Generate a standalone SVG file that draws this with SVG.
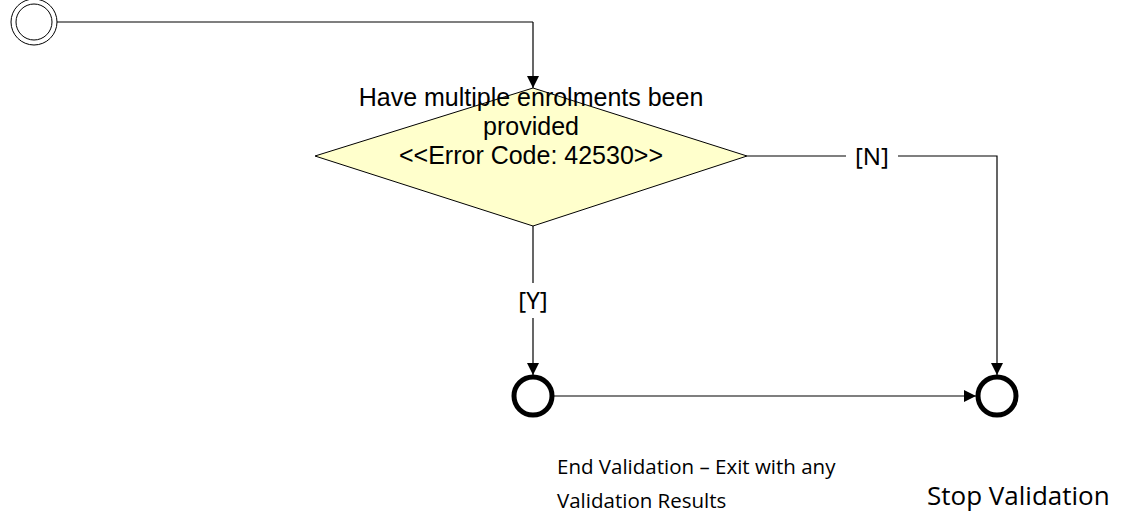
<svg xmlns="http://www.w3.org/2000/svg" width="1125" height="518" viewBox="0 0 1125 518">
<style>
.line{fill:none;stroke:#000;stroke-width:1.2}
.gline{fill:none;stroke:#555;stroke-width:1.5}
.diamond{fill:#FFFFCC;stroke:#000;stroke-width:1}
.dtext{font-family:"Liberation Sans",Arial,sans-serif;font-size:25px;fill:#000;text-anchor:middle}
.lbl{font-family:"Noto Sans","Open Sans",sans-serif;font-size:24px;fill:#000;text-anchor:middle}
.cap{font-family:"Open Sans","Noto Sans",sans-serif;font-size:20.5px;fill:#000}
.cap2{font-family:"Open Sans","Noto Sans",sans-serif;font-size:26px;fill:#000}
.endc{fill:#fff;stroke:#000;stroke-width:5}
</style>
<defs>
<marker id="arr" viewBox="0 0 12 12" refX="12" refY="6" markerWidth="12" markerHeight="12" markerUnits="userSpaceOnUse" orient="auto">
<path d="M0,0 L12,6 L0,12 z" fill="#000"/>
</marker>
</defs>
<g id="connectors">
<path class="gline" d="M56,22 H533" />
<path class="line" d="M533,22 V88" marker-end="url(#arr)"/>
<path class="line" d="M747,156 H846 M898,156 H997 V375" marker-end="url(#arr)"/>
<path class="line" d="M533,226 V283"/>
<path class="line" d="M533,318 V375" marker-end="url(#arr)"/>
<path class="gline" d="M553,396 H976" marker-end="url(#arr)"/>
<text class="lbl" x="872" y="165">[N]</text>
<text class="lbl" x="533" y="309">[Y]</text>
</g>
<g id="start">
<circle cx="34" cy="22" r="23" fill="#fff" stroke="#000" stroke-width="1"/>
<circle cx="34" cy="22" r="18" fill="#fff" stroke="#000" stroke-width="1"/>
</g>
<g id="decision">
<polygon class="diamond" points="533,88 747,156 533,226 315,156"/>
<text class="dtext" x="531" y="106">Have multiple enrolments been</text>
<text class="dtext" x="531" y="135">provided</text>
<text class="dtext" x="531" y="164">&lt;&lt;Error Code: 42530&gt;&gt;</text>
</g>
<g id="end-validation">
<circle class="endc" cx="533" cy="396" r="19"/>
<text class="cap" x="557" y="474">End Validation – Exit with any</text>
<text class="cap" x="557" y="508">Validation Results</text>
</g>
<g id="stop-validation">
<circle class="endc" cx="997" cy="396" r="19"/>
<text class="cap2" x="927" y="505">Stop Validation</text>
</g>
</svg>
